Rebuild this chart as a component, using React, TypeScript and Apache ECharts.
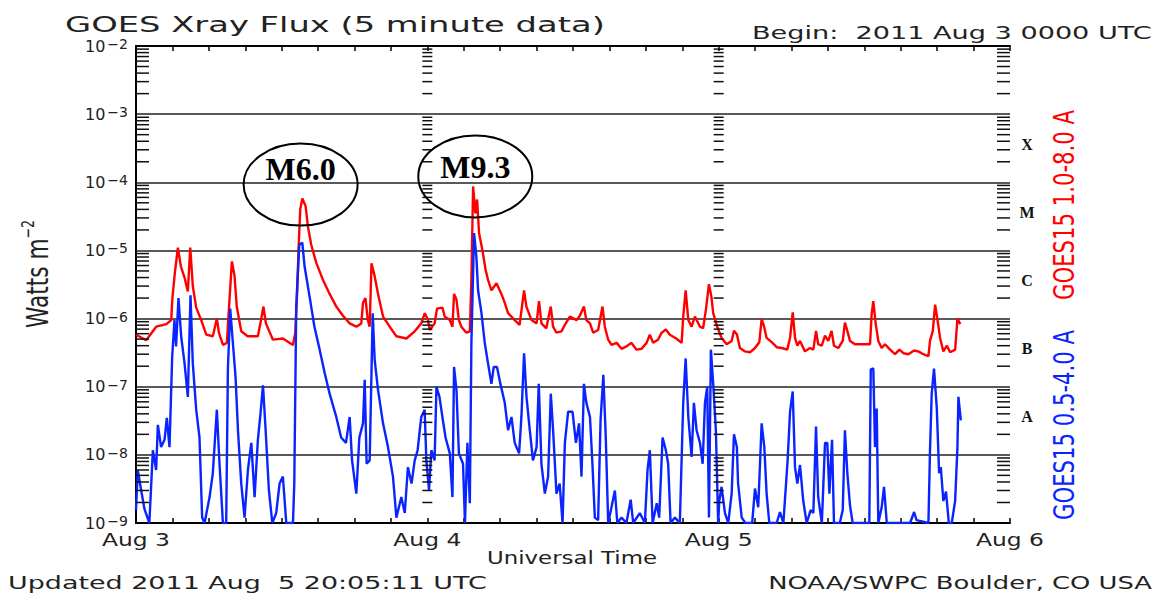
import React, { useEffect, useRef } from "react";
import * as echarts from "echarts";

const SANS = '"DejaVu Sans", "Liberation Sans", sans-serif';
const SERIF = '"Liberation Serif", "DejaVu Serif", serif';

// [hour since 2011 Aug 3 00:00 UTC, flux W/m^2]
const redAug3 = [[0,5.8e-7],[0.84,4.8e-7],[1.66,7.6e-7],[2.5,8.3e-7],[2.9,9.5e-7],[3.0,2.0e-6],[3.2,4.7e-6],[3.45,1.1e-5],[3.7,5.8e-6],[4.0,4.0e-6],[4.27,2.5e-6],[4.47,1.1e-5],[4.68,3.0e-6],[4.96,1.45e-6],[5.37,9.5e-7],[5.79,5.8e-7],[6.33,5.5e-7],[6.66,1.0e-6],[6.83,6.2e-7],[7.16,4.1e-7],[7.49,4.4e-7],[7.65,1.35e-6],[7.9,6.9e-6],[8.12,4.2e-6],[8.3,1.5e-6],[8.67,6.5e-7],[9.2,5.5e-7],[10.04,5.5e-7],[10.3,9.5e-7],[10.5,1.5e-6],[10.7,8.5e-7],[11.28,4.9e-7],[12.1,5.1e-7],[12.93,4.1e-7],[13.12,6.2e-7],[13.26,2.1e-6],[13.4,1.15e-5],[13.53,4.0e-5],[13.7,5.8e-5],[13.97,4.5e-5],[14.17,2.2e-5],[14.44,1.2e-5],[14.86,6.5e-6],[15.4,3.7e-6],[15.95,2.3e-6],[16.5,1.5e-6],[17.05,1.1e-6],[17.6,8.5e-7],[18.15,7.6e-7],[18.56,8.5e-7],[18.7,1.7e-6],[18.9,2.0e-6],[19.1,9.5e-7],[19.25,7.6e-7],[19.4,6.5e-6],[19.66,4.2e-6],[19.94,2.3e-6],[20.35,1.07e-6],[20.9,7.6e-7],[21.45,5.5e-7],[22.28,5.1e-7],[22.96,6.5e-7],[23.5,8.5e-7],[23.79,1.2e-6]];
const redAug4 = [[24.06,9.5e-7],[24.2,6.8e-7],[24.6,8.5e-7],[24.8,1.4e-6],[25.24,1.45e-6],[25.43,1.07e-6],[25.85,9.5e-7],[26.07,7.6e-7],[26.2,2.3e-6],[26.4,1.9e-6],[26.6,9.5e-7],[26.8,7.6e-7],[27.22,6.2e-7],[27.5,6.5e-7],[27.63,3.7e-6],[27.77,8.7e-5],[27.96,3.5e-5],[28.1,5.6e-5],[28.26,1.8e-5],[28.54,1.0e-5],[28.8,5.2e-6],[29.0,3.7e-6],[29.28,2.6e-6],[29.7,3.3e-6],[30.1,2.3e-6],[30.38,1.7e-6],[30.65,1.2e-6],[31.2,9.5e-7],[31.6,8.1e-7],[31.97,2.6e-6],[32.16,1.5e-6],[32.58,9.5e-7],[33.0,8.5e-7],[33.2,1.8e-6],[33.4,8.5e-7],[33.8,7.2e-7],[34.17,1.5e-6],[34.36,7.6e-7],[34.64,6.2e-7],[35.05,6.5e-7],[35.33,8.1e-7],[35.74,1.07e-6],[36.3,9.5e-7],[36.56,1.1e-6],[36.9,1.5e-6],[37.1,9.5e-7],[37.4,8.5e-7],[37.66,6.2e-7],[38.07,6.8e-7],[38.43,1.5e-6],[38.62,7.6e-7],[38.9,4.9e-7],[39.17,4.1e-7],[39.6,4.4e-7],[40.0,3.6e-7],[40.4,3.9e-7],[40.8,4.4e-7],[41.24,3.5e-7],[41.65,3.6e-7],[42.06,4.4e-7],[42.33,5.8e-7],[42.6,4.4e-7],[43.0,4.9e-7],[43.3,6.2e-7],[43.65,6.9e-7],[43.98,5.8e-7],[44.5,5.1e-7],[44.95,4.4e-7],[45.08,1.07e-6],[45.28,2.6e-6],[45.5,9.5e-7],[45.77,7.6e-7],[46.04,1.07e-6],[46.46,7.6e-7],[46.72,7.2e-7],[46.95,1.35e-6],[47.2,3.2e-6],[47.4,2.1e-6],[47.55,1.2e-6],[47.88,7.6e-7]];
const redAug5 = [[48.24,5.2e-7],[48.66,4.2e-7],[49.07,4.7e-7],[49.26,6.6e-7],[49.5,5.9e-7],[49.75,3.7e-7],[50.17,3.3e-7],[50.58,3.2e-7],[50.99,3.7e-7],[51.35,4.5e-7],[51.54,9.8e-7],[51.76,7.4e-7],[51.95,5.2e-7],[52.37,4.5e-7],[52.78,3.8e-7],[53.2,3.7e-7],[53.65,3.5e-7],[53.88,5.2e-7],[54.1,1.23e-6],[54.29,5.2e-7],[54.48,4.0e-7],[54.7,4.7e-7],[55.11,3.3e-7],[55.52,3.7e-7],[55.8,3.5e-7],[56.02,6.6e-7],[56.2,4.2e-7],[56.49,4.0e-7],[56.76,5.6e-7],[57.03,4.7e-7],[57.3,6.6e-7],[57.5,4.0e-7],[57.86,3.7e-7],[58.22,4.7e-7],[58.4,8.7e-7],[58.6,6.6e-7],[58.82,4.7e-7],[59.23,4.2e-7],[59.78,4.2e-7],[60.47,4.2e-7],[60.6,1.15e-6],[60.74,1.8e-6],[60.94,8.3e-7],[61.15,4.7e-7],[61.43,3.7e-7],[61.7,4.2e-7],[62.12,3.5e-7],[62.53,3.0e-7],[62.89,3.5e-7],[63.22,3.1e-7],[63.63,3.0e-7],[64.1,3.4e-7],[64.45,3.3e-7],[64.86,3.0e-7],[65.28,2.8e-7],[65.41,4.7e-7],[65.64,6.6e-7],[65.83,1.6e-6],[66.02,9.8e-7],[66.24,5.2e-7],[66.51,3.3e-7],[66.8,4.0e-7],[67.07,3.2e-7],[67.48,3.5e-7],[67.67,1.0e-6],[67.9,8.3e-7]];

const blueAug3 = [[0,1.55e-9],[0.15,5.9e-9],[0.43,3.0e-9],[0.7,1.6e-9],[1.1,1e-9],[1.39,1.17e-8],[1.66,6.0e-9],[1.8,2.75e-8],[2.07,1.3e-8],[2.35,1.66e-8],[2.54,3.5e-8],[2.76,1.3e-8],[2.98,2.75e-7],[3.17,9.5e-7],[3.3,3.9e-7],[3.5,2.0e-6],[3.72,5.5e-7],[4.0,2.2e-7],[4.27,7.1e-8],[4.49,2.2e-6],[4.68,2.2e-7],[4.96,4.6e-8],[5.23,1.8e-8],[5.45,1.2e-9],[5.65,1e-9],[6.06,2.4e-9],[6.33,5.4e-9],[6.66,4.6e-8],[6.88,7.4e-9],[7.16,1e-9],[7.43,1e-9],[7.57,1.8e-7],[7.76,1.4e-6],[7.98,4.4e-7],[8.2,1.4e-7],[8.4,2.3e-8],[8.67,3.8e-9],[8.94,1.2e-9],[9.22,6.0e-9],[9.5,1.5e-8],[9.77,2.4e-9],[10.04,1.66e-8],[10.26,4.1e-8],[10.46,1.05e-7],[10.68,2.3e-8],[10.95,3.0e-9],[11.23,1e-9],[11.55,1.4e-9],[11.83,3.8e-9],[12.1,4.8e-9],[12.38,1e-9],[12.93,1e-9],[13.04,3.8e-9],[13.2,1.5e-6],[13.45,1.2e-5],[13.7,1.3e-5],[13.89,5.8e-6],[14.3,2.1e-6],[14.7,7.6e-7],[15.13,3.5e-7],[15.54,1.6e-7],[15.95,7.9e-8],[16.5,3.6e-8],[16.9,1.8e-8],[17.3,1.5e-8],[17.6,3.6e-8],[17.8,8.3e-9],[18.15,2.7e-9],[18.4,1.8e-8],[18.7,2.9e-8],[18.84,1.26e-7],[19.0,7.4e-9],[19.25,8.3e-9],[19.5,1.2e-6],[19.66,2.5e-7],[19.94,8.9e-8],[20.35,2.9e-8],[20.76,1.3e-8],[21.17,4.8e-9],[21.45,1.2e-9],[21.86,2.4e-9],[22.14,1.4e-9],[22.4,6.6e-9],[22.7,3.8e-9],[22.96,8.3e-9],[23.2,1.17e-8],[23.5,3.6e-8],[23.78,4.6e-8]];
const blueAug4 = [[23.92,8.3e-9],[24.14,3.0e-9],[24.33,1.17e-8],[24.6,8.3e-9],[24.75,1.0e-7],[25.0,7.1e-8],[25.24,3.6e-8],[25.5,1.8e-8],[25.85,1.05e-8],[26.07,2.4e-9],[26.2,1.95e-7],[26.4,8.9e-8],[26.6,1.05e-8],[26.94,7.4e-9],[27.1,1e-9],[27.3,1.5e-8],[27.5,1.95e-9],[27.63,4.4e-7],[27.85,1.8e-5],[28.04,8.1e-6],[28.18,2.6e-6],[28.46,1.2e-6],[28.73,4.4e-7],[29.0,2.2e-7],[29.28,1.1e-7],[29.47,1.95e-7],[29.74,1.95e-7],[30.02,1.1e-7],[30.38,5.8e-8],[30.65,2.3e-8],[30.93,3.6e-8],[31.2,1.5e-8],[31.56,1.05e-8],[31.75,3.6e-8],[31.97,3.1e-7],[32.17,7.1e-8],[32.44,2.3e-8],[32.7,8.3e-9],[33.0,1.3e-8],[33.18,1.1e-7],[33.4,7.4e-9],[33.68,2.7e-9],[33.95,4.8e-9],[34.17,7.9e-8],[34.36,2.3e-8],[34.64,2.7e-9],[34.9,3.8e-9],[35.14,1e-9],[35.33,1.5e-8],[35.6,4.3e-8],[35.96,4.3e-8],[36.24,1.5e-8],[36.5,2.9e-8],[36.7,4.8e-9],[36.9,1.1e-7],[37.1,5.8e-8],[37.4,3.6e-8],[37.6,7.4e-9],[37.8,1.2e-9],[38.07,1.1e-9],[38.27,3.2e-8],[38.5,1.5e-7],[38.7,1.8e-8],[38.9,1e-9],[39.17,1.7e-9],[39.45,3.0e-9],[39.65,1e-9],[40.0,1.2e-9],[40.4,1e-9],[40.75,2.2e-9],[40.96,1e-9],[41.5,1.4e-9],[41.92,1e-9],[42.14,6.0e-9],[42.33,1.17e-8],[42.56,1e-9],[42.9,1.95e-9],[43.1,1.2e-9],[43.38,1.8e-8],[43.65,1.17e-8],[43.84,7.4e-9],[44.04,1e-9],[44.4,1.2e-9],[44.8,1e-9],[45.08,5.8e-8],[45.28,2.6e-7],[45.5,3.6e-8],[45.77,9.3e-9],[45.96,5.8e-8],[46.18,2.3e-8],[46.46,1.5e-8],[46.68,7.4e-9],[46.87,5.8e-8],[47.06,1.0e-7],[47.2,1.2e-9],[47.36,3.5e-7],[47.55,1.1e-7],[47.77,2.3e-8],[47.96,1e-9]];
const blueAug5 = [[48.05,2.1e-9],[48.24,3.4e-9],[48.52,1.4e-9],[48.79,1e-9],[49.07,2.7e-9],[49.26,2.0e-8],[49.5,1.3e-8],[49.6,3.8e-9],[49.9,1.2e-9],[50.2,1e-9],[50.76,1e-9],[50.99,3.2e-9],[51.26,1.7e-9],[51.54,2.9e-8],[51.76,1.3e-8],[51.95,2.7e-9],[52.17,1e-9],[52.78,1e-9],[53.05,1.45e-9],[53.33,1e-9],[53.68,8.3e-9],[53.88,4.3e-8],[54.1,8.5e-8],[54.29,6.6e-9],[54.48,3.8e-9],[54.7,7.1e-9],[54.97,2.1e-9],[55.25,1e-9],[55.58,1.55e-9],[55.8,1.4e-9],[56.02,2.6e-8],[56.2,2.4e-9],[56.5,1e-9],[56.76,1.5e-8],[56.95,1.5e-8],[57.12,2.7e-9],[57.34,1.66e-8],[57.5,1e-9],[57.98,1e-9],[58.22,1.55e-9],[58.4,2.3e-8],[58.6,5.4e-9],[58.82,1.8e-9],[59.04,1e-9],[60.41,1e-9],[60.53,1.8e-7],[60.74,1.85e-7],[60.88,1.3e-8],[61.02,4.8e-8],[61.15,1e-9],[61.43,1.7e-9],[61.62,3.4e-9],[61.85,1e-9],[63.77,1e-9],[64.1,1.45e-9],[64.3,1.1e-9],[65.28,1e-9],[65.41,1.17e-8],[65.55,7.9e-8],[65.74,1.85e-7],[65.97,4.8e-8],[66.16,5.4e-9],[66.3,6.6e-9],[66.51,2.1e-9],[66.73,2.9e-9],[66.96,1e-9],[67.2,1e-9],[67.48,2.1e-9],[67.67,1.3e-8],[67.75,7.1e-8],[67.95,3.2e-8]];

const dayHours = [0, 24, 48, 72];
const dayLabels = ["Aug 3", "Aug 4", "Aug 5", "Aug 6"];
const classLetters = ["X", "M", "C", "B", "A"];
const classFlux = [3.6e-4, 3.6e-5, 3.6e-6, 3.6e-7, 3.6e-8];
const flareLabels = ["M6.0", "M9.3"];
const flareHours = [13.56, 27.95];
const flareCenterFlux = [9.25e-5, 1.22e-4];
const flareTextFlux = [1.59e-4, 1.65e-4];

const X_MIN = 0, X_MAX = 72, X_TICK = 3;
const Y_MIN = 1e-9, Y_MAX = 1e-2;
const TEXT = "#222";

function textWidth(text: string, font: string): number {
  const ctx = document.createElement("canvas").getContext("2d");
  if (!ctx) return text.length * 10;
  ctx.font = font;
  return ctx.measureText(text).width || text.length * 10;
}

export default function App() {
  const ref = useRef<HTMLDivElement>(null);

  useEffect(() => {
    if (!ref.current) return;
    const chart = echarts.init(ref.current, undefined, { renderer: "svg" });

    const f = (size: number, fam = SANS, weight = "normal") => `${weight} ${size}px ${fam}`;
    const fit = (text: string, size: number, target: number) => target / textWidth(text, f(size));

    const titleText = "GOES Xray Flux (5 minute data)";
    const beginText = "Begin:  2011 Aug 3 0000 UTC";
    const utText = "Universal Time";
    const updText = "Updated 2011 Aug  5 20:05:11 UTC";
    const noaaText = "NOAA/SWPC Boulder, CO USA";
    const redLbl = "GOES15 1.0-8.0 A";
    const blueLbl = "GOES15 0.5-4.0 A";

    const dayScale = 68 / textWidth("Aug 3", f(17));
    const wattsW = textWidth("Watts m", f(31)) + textWidth("−2", f(18));

    const minorTicks: number[][] = [];
    for (let e = -9; e < -2; e++) {
      for (let k = 2; k <= 9; k++) {
        for (const h of dayHours) minorTicks.push([h, k * Math.pow(10, e)]);
      }
    }

    const txt = (text: string, x: number, y: number, size: number, target: number, align: string, extra: any = {}) => ({
      type: "text",
      x, y,
      scaleX: fit(text, size, target),
      silent: true,
      style: {
        text, font: f(size), fill: TEXT,
        align, textAlign: align, verticalAlign: "middle", textVerticalAlign: "middle",
        ...extra,
      },
    });

    const xAxisBase = {
      type: "value", min: X_MIN, max: X_MAX, interval: X_TICK,
      axisLine: { show: true, lineStyle: { color: "#000", width: 2 } },
      axisTick: { show: true, inside: true, length: 5, lineStyle: { color: "#000", width: 1.5 } },
      axisLabel: { show: false },
      splitLine: { show: false },
    };

    const option: any = {
      animation: false,
      backgroundColor: "#fff",
      grid: { left: 136, top: 46, width: 874, height: 477 },
      xAxis: [
        { ...xAxisBase, position: "bottom" },
        { ...xAxisBase, position: "top" },
      ],
      yAxis: [
        {
          type: "log", logBase: 10, min: Y_MIN, max: Y_MAX, splitNumber: 7,
          axisLine: { show: true, lineStyle: { color: "#000", width: 2 } },
          axisTick: { show: false },
          splitLine: { show: true, lineStyle: { color: "#222", width: 1.5 } },
          axisLabel: {
            margin: 8,
            formatter: (v: number) => `{b|10}{e|−${-Math.round(Math.log10(v))}}`,
            rich: {
              b: { fontFamily: SANS, fontSize: 16, color: TEXT, lineHeight: 18, padding: [6, 0, 6, 0], verticalAlign: "middle" },
              e: { fontFamily: SANS, fontSize: 14, color: TEXT, lineHeight: 15, padding: [0, 0, 0, 2], verticalAlign: "top" },
            },
          },
        },
        {
          type: "log", logBase: 10, min: Y_MIN, max: Y_MAX, splitNumber: 7, position: "right",
          axisLine: { show: true, lineStyle: { color: "#000", width: 2 } },
          axisTick: { show: false }, axisLabel: { show: false }, splitLine: { show: false },
        },
      ],
      series: [
        {
          name: "GOES15 1.0-8.0 A", type: "line", xAxisIndex: 0, yAxisIndex: 0,
          data: [...redAug3, ...redAug4, ...redAug5],
          symbol: "none", showSymbol: false, clip: true, z: 3,
          lineStyle: { color: "#ff0000", width: 2.4 }, itemStyle: { color: "#ff0000" },
        },
        {
          name: "GOES15 0.5-4.0 A", type: "line", xAxisIndex: 0, yAxisIndex: 0,
          data: [...blueAug3, ...blueAug4, ...blueAug5],
          symbol: "none", showSymbol: false, clip: true, z: 4,
          lineStyle: { color: "#0a24ff", width: 2.4 }, itemStyle: { color: "#0a24ff" },
        },
        {
          type: "custom", xAxisIndex: 0, yAxisIndex: 0, silent: true, z: 5,
          data: minorTicks,
          renderItem: (params: any, api: any) => {
            const h = api.value(0);
            const v = api.value(1);
            const p = api.coord([h, v]);
            let x1 = p[0], x2 = p[0];
            if (h === X_MIN) x2 = p[0] + 13;
            else if (h === X_MAX) x1 = p[0] - 13;
            else { x1 = p[0] - 5; x2 = p[0] + 5; }
            return { type: "line", shape: { x1, y1: p[1], x2, y2: p[1] }, style: { stroke: "#111", lineWidth: 1.5 } };
          },
        },
        {
          type: "custom", xAxisIndex: 0, yAxisIndex: 0, silent: true, z: 5,
          data: dayHours.map((h) => [h, Y_MIN]),
          renderItem: (params: any, api: any) => {
            const p = api.coord([api.value(0), api.value(1)]);
            return {
              type: "text", x: p[0], y: p[1] + 17, scaleX: dayScale,
              style: { text: dayLabels[params.dataIndex], font: f(17), fill: TEXT, align: "center", textAlign: "center", verticalAlign: "middle", textVerticalAlign: "middle" },
            };
          },
        },
        {
          type: "custom", xAxisIndex: 0, yAxisIndex: 0, silent: true, z: 5,
          data: classFlux.map((v) => [X_MAX, v]),
          renderItem: (params: any, api: any) => {
            const p = api.coord([api.value(0), api.value(1)]);
            return {
              type: "text", x: p[0] + 17, y: p[1],
              style: { text: classLetters[params.dataIndex], font: f(16, SERIF, "bold"), fill: "#111", align: "center", textAlign: "center", verticalAlign: "middle", textVerticalAlign: "middle" },
            };
          },
        },
        {
          type: "custom", xAxisIndex: 0, yAxisIndex: 0, silent: true, z: 6,
          data: flareHours.map((h, i) => [h, flareCenterFlux[i]]),
          renderItem: (params: any, api: any) => {
            const i = params.dataIndex;
            const c = api.coord([api.value(0), api.value(1)]);
            const t = api.coord([flareHours[i], flareTextFlux[i]]);
            return {
              type: "group",
              children: [
                { type: "ellipse", shape: { cx: c[0], cy: c[1], rx: 57, ry: 41 }, style: { fill: "none", stroke: "#000", lineWidth: 2 } },
                {
                  type: "text", x: t[0], y: t[1],
                  style: { text: flareLabels[i], font: f(32, SERIF, "bold"), fill: "#000", align: "center", textAlign: "center", verticalAlign: "middle", textVerticalAlign: "middle" },
                },
              ],
            };
          },
        },
      ],
      graphic: [
        txt(titleText, 65, 25, 22, 540, "left"),
        txt(beginText, 752, 33, 17, 400, "left"),
        txt(utText, 572, 558, 17, 170, "center"),
        txt(updText, 8, 583, 18, 479, "left"),
        txt(noaaText, 1152, 583, 18, 384, "right"),
        { ...txt(redLbl, 1064, 205, 29, 190, "center", { fill: "#ff0000" }), rotation: Math.PI / 2 },
        { ...txt(blueLbl, 1064, 425, 29, 190, "center", { fill: "#0a24ff" }), rotation: Math.PI / 2 },
        {
          type: "text", x: 37, y: 274, rotation: Math.PI / 2, scaleX: 108 / wattsW, silent: true,
          style: {
            text: "{a|Watts m}{b|−2}",
            align: "center", textAlign: "center", verticalAlign: "middle", textVerticalAlign: "middle",
            fill: TEXT,
            rich: {
              a: { fontFamily: SANS, fontSize: 31, lineHeight: 36, fill: TEXT, verticalAlign: "middle" },
              b: { fontFamily: SANS, fontSize: 18, lineHeight: 20, fill: TEXT, verticalAlign: "top" },
            },
          },
        },
      ],
    };

    chart.setOption(option);
    return () => chart.dispose();
  }, []);

  return (
    <div
      ref={ref}
      style={{ position: "fixed", left: 0, top: 0, width: 1169, height: 597, background: "#fff" }}
    />
  );
}
